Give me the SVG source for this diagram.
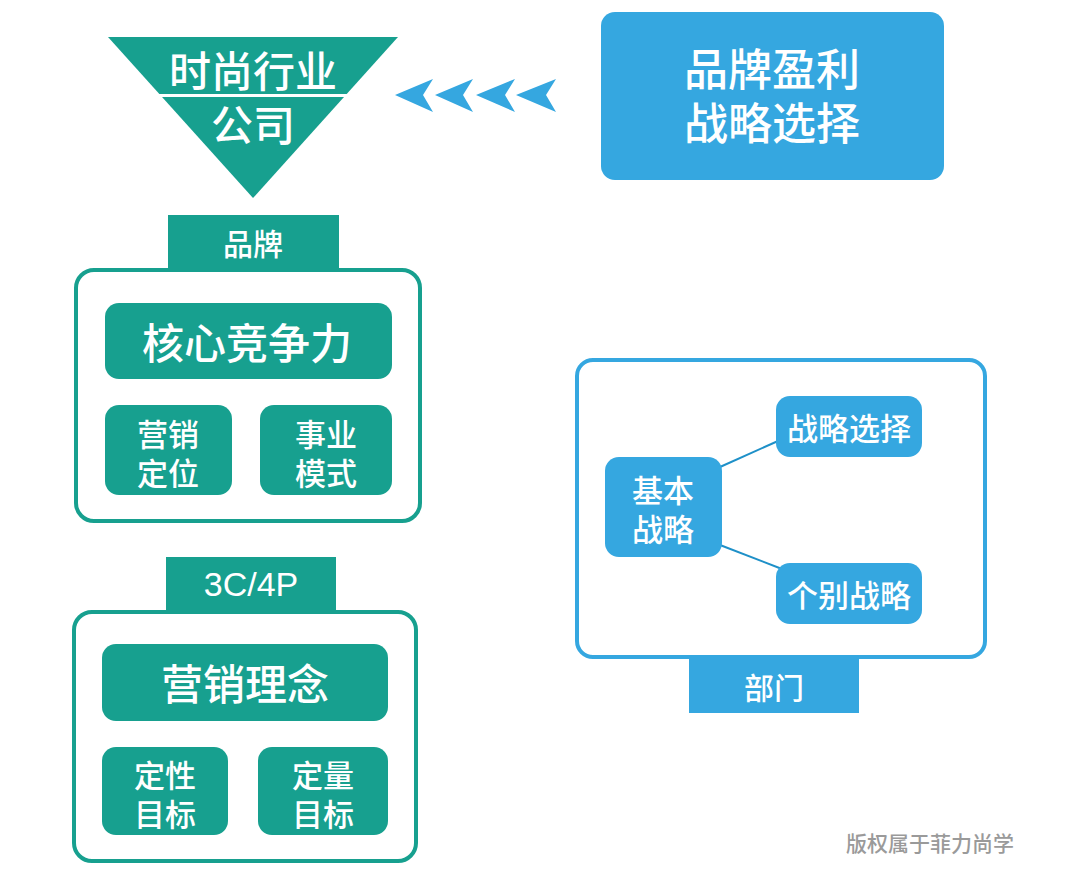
<svg xmlns="http://www.w3.org/2000/svg" width="1080" height="881" viewBox="0 0 1080 881">
<style>
.t{font-family:"Noto Sans CJK SC","Liberation Sans",sans-serif;font-weight:500;fill:#fff;text-anchor:middle;dominant-baseline:central}
.teal{fill:#17a08f}
.blue{fill:#35a7e0}
.frT{fill:#fff;stroke:#17a08f;stroke-width:4}
.frB{fill:#fff;stroke:#35a7e0;stroke-width:4}
.ln{stroke:#1e90c8;stroke-width:2;fill:none}
</style>
<rect width="1080" height="881" fill="#fff"/>
<g id="company">
<polygon class="teal" points="108,37 398,37 253,198"/>
<rect x="150" y="94" width="210" height="3" fill="#fff"/>
<text class="t" x="253" y="68" font-size="42">时尚行业</text>
<text class="t" x="253" y="122" font-size="42">公司</text>
</g>
<g id="arrows">
<polygon class="blue" points="395,95 433,79 423,95 433,112"/>
<polygon class="blue" points="435,95 473,79 463,95 473,112"/>
<polygon class="blue" points="476,95 515,79 505,95 515,112"/>
<polygon class="blue" points="516,95 556,79 546,95 556,112"/>
</g>
<g id="profit">
<rect class="blue" x="601" y="12" width="343" height="168" rx="14"/>
<text class="t" x="772" y="67" font-size="44">品牌盈利</text>
<text class="t" x="772" y="121" font-size="44">战略选择</text>
</g>
<g id="brand">
<rect class="teal" x="168" y="215" width="171" height="55"/>
<text class="t" x="253" y="242" font-size="30">品牌</text>
<rect class="frT" x="76" y="270" width="344" height="251" rx="18"/>
<rect class="teal" x="105" y="303" width="287" height="76" rx="14"/>
<text class="t" x="247" y="340" font-size="42">核心竞争力</text>
<rect class="teal" x="105" y="405" width="127" height="90" rx="14"/>
<text class="t" x="168" y="432" font-size="31">营销</text>
<text class="t" x="168" y="471" font-size="31">定位</text>
<rect class="teal" x="260" y="405" width="132" height="90" rx="14"/>
<text class="t" x="326" y="432" font-size="31">事业</text>
<text class="t" x="326" y="471" font-size="31">模式</text>
</g>
<g id="marketing">
<rect class="teal" x="166" y="557" width="170" height="55"/>
<text class="t" x="251" y="584" font-size="34" style="font-family:'Liberation Sans',sans-serif;font-weight:normal">3C/4P</text>
<rect class="frT" x="74" y="612" width="342" height="249" rx="18"/>
<rect class="teal" x="102" y="644" width="286" height="77" rx="14"/>
<text class="t" x="245" y="681" font-size="42">营销理念</text>
<rect class="teal" x="102" y="747" width="126" height="88" rx="14"/>
<text class="t" x="165" y="773" font-size="31">定性</text>
<text class="t" x="165" y="812" font-size="31">目标</text>
<rect class="teal" x="258" y="747" width="130" height="88" rx="14"/>
<text class="t" x="323" y="773" font-size="31">定量</text>
<text class="t" x="323" y="812" font-size="31">目标</text>
</g>
<g id="department">
<rect class="frB" x="577" y="360" width="408" height="297" rx="16"/>
<rect class="blue" x="689" y="659" width="170" height="54"/>
<text class="t" x="774" y="686" font-size="30">部门</text>
</g>
<g id="connectors">
<line class="ln" x1="720" y1="467" x2="778" y2="441"/>
<line class="ln" x1="720" y1="545" x2="782" y2="569"/>
</g>
<g id="basic">
<rect class="blue" x="605" y="457" width="117" height="100" rx="14"/>
<text class="t" x="663" y="488" font-size="31">基本</text>
<text class="t" x="663" y="527" font-size="31">战略</text>
</g>
<g id="choice">
<rect class="blue" x="776" y="396" width="146" height="61" rx="14"/>
<text class="t" x="849" y="426" font-size="31">战略选择</text>
</g>
<g id="individual">
<rect class="blue" x="776" y="563" width="146" height="61" rx="14"/>
<text class="t" x="849" y="593" font-size="31">个别战略</text>
</g>
<text x="930" y="842" font-size="21" fill="#9a9a9a" text-anchor="middle" dominant-baseline="central" font-family="'Noto Sans CJK SC',sans-serif" font-weight="500">版权属于菲力尚学</text>
</svg>
